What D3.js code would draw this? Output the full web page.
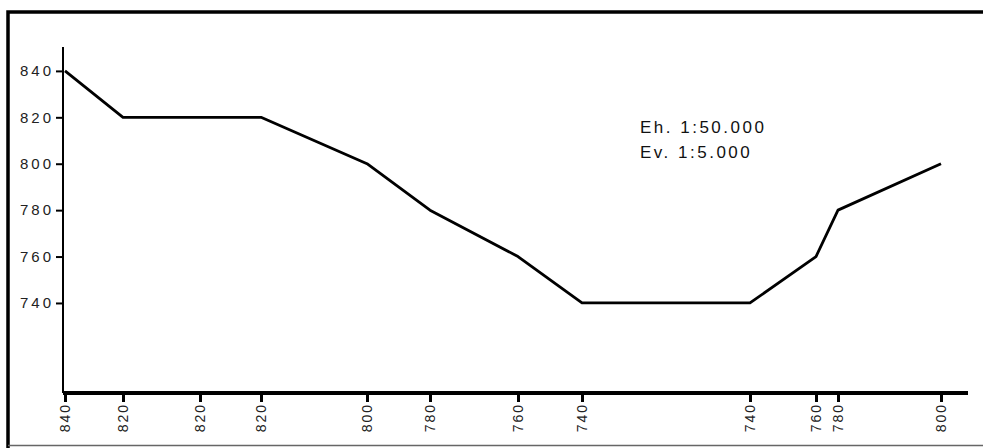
<!DOCTYPE html>
<html>
<head>
<meta charset="utf-8">
<script src="https://cdn.jsdelivr.net/npm/d3@7"></script>
<style>
	body { margin: 0; background: #fff; }
	text { font-family: Arial, 'Liberation Sans', sans-serif; }
</style>
</head>
<body>
<div id="graphic"></div>
<script>
// profile points: distance along the section and altitude (m)
var distances = [2, 60, 137, 198, 304, 367, 455, 519, 687, 753, 775, 878];
var altitudes = [840, 820, 820, 820, 800, 780, 760, 740, 740, 760, 780, 800];
var yTicks = [740, 760, 780, 800, 820, 840];
var scaleNotes = ['Eh. 1:50.000', 'Ev. 1:5.000'];

var width = 983, height = 448;
var margin = { top: 47, right: 15, bottom: 55, left: 63 };
var chart_width = width - margin.left - margin.right;
var chart_height = height - margin.top - margin.bottom;

var svg = d3.select('#graphic')
	.append('svg')
	.attr('width', width)
	.attr('height', height);

// outer frame
svg.append('path')
	.attr('d', 'M8,448 V12 H990')
	.attr('fill', 'none')
	.attr('stroke', '#000')
	.attr('stroke-width', 3.5);
svg.append('line')
	.attr('x1', 8).attr('x2', 983)
	.attr('y1', 445.5).attr('y2', 445.5)
	.attr('stroke', '#666')
	.attr('stroke-width', 1.5);

var g = svg.append('g')
	.attr('transform', 'translate(' + margin.left + ',' + margin.top + ')');

var x = d3.scaleLinear().domain([0, 905]).range([0, chart_width]);
var y = d3.scaleLinear().domain([701.2, 850.3]).range([chart_height, 0]);

// y axis
var yAxis = d3.axisLeft(y).tickValues(yTicks).tickSize(7).tickPadding(2);
var yg = g.append('g').attr('class', 'y axis').call(yAxis);
yg.select('.domain').remove();
yg.selectAll('line').attr('stroke', '#000').attr('stroke-width', 2);
yg.selectAll('text')
	.attr('font-size', 15)
	.attr('letter-spacing', 3)
	.attr('fill', '#222');
g.append('line')
	.attr('x1', 0).attr('x2', 0)
	.attr('y1', 0).attr('y2', chart_height)
	.attr('stroke', '#000').attr('stroke-width', 2);

// x axis
var xAxis = d3.axisBottom(x)
	.tickValues(distances)
	.tickSize(9)
	.tickFormat(function (d, i) { return altitudes[i]; });
var xg = g.append('g')
	.attr('class', 'x axis')
	.attr('transform', 'translate(0,' + chart_height + ')')
	.call(xAxis);
xg.select('.domain').remove();
xg.selectAll('line').attr('stroke', '#000').attr('stroke-width', 3);
xg.selectAll('text')
	.attr('font-size', 14)
	.attr('letter-spacing', 2)
	.attr('fill', '#222')
	.attr('transform', 'rotate(-90)')
	.attr('text-anchor', 'end')
	.attr('x', -10)
	.attr('y', 0)
	.attr('dy', '0.35em');
g.append('line')
	.attr('x1', 0).attr('x2', x(905))
	.attr('y1', chart_height).attr('y2', chart_height)
	.attr('stroke', '#000').attr('stroke-width', 4);

// profile line
var line = d3.line()
	.x(function (d, i) { return x(distances[i]); })
	.y(function (d) { return y(d); });
g.append('path')
	.datum(altitudes)
	.attr('fill', 'none')
	.attr('stroke', '#000')
	.attr('stroke-width', 2.8)
	.attr('stroke-linejoin', 'round')
	.attr('d', line);

// scale notes
g.append('g')
	.attr('transform', 'translate(' + (640 - margin.left) + ',' + (133 - margin.top) + ')')
	.selectAll('text')
	.data(scaleNotes)
	.join('text')
	.attr('y', function (d, i) { return i * 25; })
	.attr('font-size', 17)
	.attr('letter-spacing', 2.5)
	.attr('fill', '#111')
	.text(function (d) { return d; });
</script>
</body>
</html>
